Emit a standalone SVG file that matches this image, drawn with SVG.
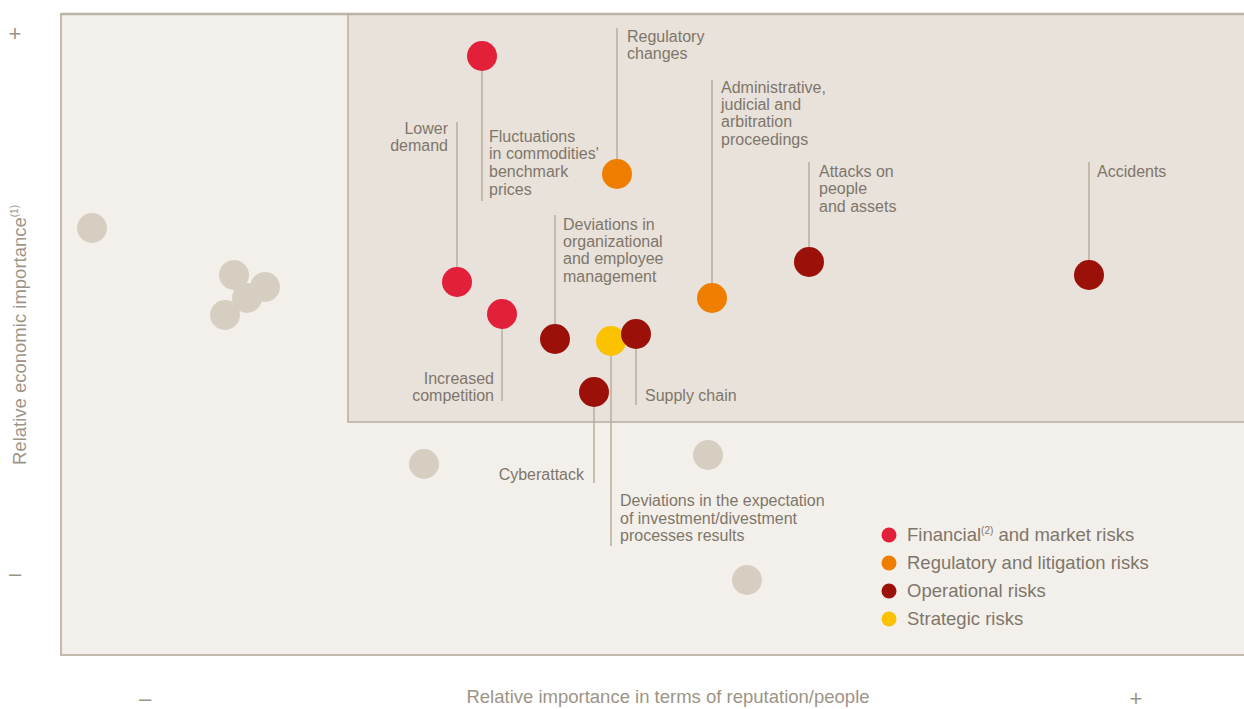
<svg xmlns="http://www.w3.org/2000/svg" width="1244" height="709" viewBox="0 0 1244 709">
<style>
.t{font-family:"Liberation Sans",Arial,sans-serif;font-size:16px;fill:#7f766a}
.r{text-anchor:end}
.lg{font-family:"Liberation Sans",Arial,sans-serif;font-size:18.5px;fill:#7f766a}
.ax{font-family:"Liberation Sans",Arial,sans-serif;font-size:18.5px;fill:#9d9486}
.sg{font-family:"Liberation Sans",Arial,sans-serif;font-size:22px;fill:#9d9486;text-anchor:middle}
.ln{stroke:#b9ae9e;stroke-width:1.5;fill:none}
.g{fill:#d6cfc1}
.fin{fill:#e2203a}
.reg{fill:#ef7d00}
.op{fill:#9b1008}
.st{fill:#fcc200}
</style>
<rect width="1244" height="709" fill="#ffffff"/>
<g id="frame">
<rect x="61" y="14" width="1190" height="641" fill="#f3f0eb" stroke="#c4baab" stroke-width="2"/>
<rect x="348" y="14" width="900" height="408" fill="#e8e2da" stroke="#b8ad9d" stroke-width="1.5"/>
<line x1="61" y1="14" x2="1244" y2="14" stroke="#bdb3a4" stroke-width="2.5"/>
</g>
<g id="axes">
<text class="sg" x="15" y="41">+</text>
<text class="sg" x="15" y="581">–</text>
<text class="sg" x="145" y="706">–</text>
<text class="sg" x="1136" y="706">+</text>
<text class="ax" x="668" y="703" text-anchor="middle">Relative importance in terms of reputation/people</text>
<text class="ax" transform="translate(26,335) rotate(-90)" text-anchor="middle">Relative economic importance<tspan font-size="10" dy="-8">(1)</tspan></text>
</g>
<g id="connectors">
<line class="ln" x1="482" y1="56" x2="482" y2="201"/>
<line class="ln" x1="457" y1="122" x2="457" y2="282"/>
<line class="ln" x1="617" y1="28" x2="617" y2="174"/>
<line class="ln" x1="712" y1="80" x2="712" y2="298"/>
<line class="ln" x1="809" y1="162" x2="809" y2="262"/>
<line class="ln" x1="1089" y1="162" x2="1089" y2="275"/>
<line class="ln" x1="555" y1="215" x2="555" y2="339"/>
<line class="ln" x1="502" y1="315" x2="502" y2="401"/>
<line class="ln" x1="636" y1="335" x2="636" y2="405"/>
<line class="ln" x1="594" y1="392" x2="594" y2="483"/>
<line class="ln" x1="611" y1="341" x2="611" y2="546"/>
</g>
<g id="grey-points">
<circle class="g" cx="92" cy="228" r="15"/>
<circle class="g" cx="234" cy="275" r="15"/>
<circle class="g" cx="265" cy="287" r="15"/>
<circle class="g" cx="247" cy="298" r="15"/>
<circle class="g" cx="225" cy="315" r="15"/>
<circle class="g" cx="424" cy="464" r="15"/>
<circle class="g" cx="708" cy="455" r="15"/>
<circle class="g" cx="747" cy="580" r="15"/>
</g>
<g id="fluctuations">
<circle class="fin" cx="482" cy="56" r="15"/>
<text class="t" x="489" y="142">Fluctuations</text>
<text class="t" x="489" y="159">in commodities'</text>
<text class="t" x="489" y="177">benchmark</text>
<text class="t" x="489" y="195">prices</text>
</g>
<g id="lower-demand">
<circle class="fin" cx="457" cy="282" r="15"/>
<text class="t r" x="448" y="134">Lower</text>
<text class="t r" x="448" y="151">demand</text>
</g>
<g id="increased-competition">
<circle class="fin" cx="502" cy="314" r="15"/>
<text class="t r" x="494" y="384">Increased</text>
<text class="t r" x="494" y="401">competition</text>
</g>
<g id="regulatory-changes">
<circle class="reg" cx="617" cy="174" r="15"/>
<text class="t" x="627" y="42">Regulatory</text>
<text class="t" x="627" y="59">changes</text>
</g>
<g id="administrative">
<circle class="reg" cx="712" cy="298" r="15"/>
<text class="t" x="721" y="93">Administrative,</text>
<text class="t" x="721" y="110">judicial and</text>
<text class="t" x="721" y="127">arbitration</text>
<text class="t" x="721" y="145">proceedings</text>
</g>
<g id="attacks">
<circle class="op" cx="809" cy="262" r="15"/>
<text class="t" x="819" y="177">Attacks on</text>
<text class="t" x="819" y="194">people</text>
<text class="t" x="819" y="212">and assets</text>
</g>
<g id="accidents">
<circle class="op" cx="1089" cy="275" r="15"/>
<text class="t" x="1097" y="177">Accidents</text>
</g>
<g id="deviations-org">
<circle class="op" cx="555" cy="339" r="15"/>
<text class="t" x="563" y="230">Deviations in</text>
<text class="t" x="563" y="247">organizational</text>
<text class="t" x="563" y="264">and employee</text>
<text class="t" x="563" y="282">management</text>
</g>
<g id="deviations-invest">
<circle class="st" cx="611" cy="341" r="15"/>
<text class="t" x="620" y="506">Deviations in the expectation</text>
<text class="t" x="620" y="524">of investment/divestment</text>
<text class="t" x="620" y="541">processes results</text>
</g>
<g id="supply-chain">
<circle class="op" cx="636" cy="334" r="15"/>
<text class="t" x="645" y="401">Supply chain</text>
</g>
<g id="cyberattack">
<circle class="op" cx="594" cy="392" r="15"/>
<text class="t r" x="584" y="480">Cyberattack</text>
</g>
<g id="legend">
<circle class="fin" cx="889" cy="535" r="7.5"/>
<text class="lg" x="907" y="541">Financial<tspan font-size="10" dy="-7">(2)</tspan><tspan dy="7"> and market risks</tspan></text>
<circle class="reg" cx="889" cy="563" r="7.5"/>
<text class="lg" x="907" y="569">Regulatory and litigation risks</text>
<circle class="op" cx="889" cy="591" r="7.5"/>
<text class="lg" x="907" y="597">Operational risks</text>
<circle class="st" cx="889" cy="619" r="7.5"/>
<text class="lg" x="907" y="625">Strategic risks</text>
</g>
</svg>
